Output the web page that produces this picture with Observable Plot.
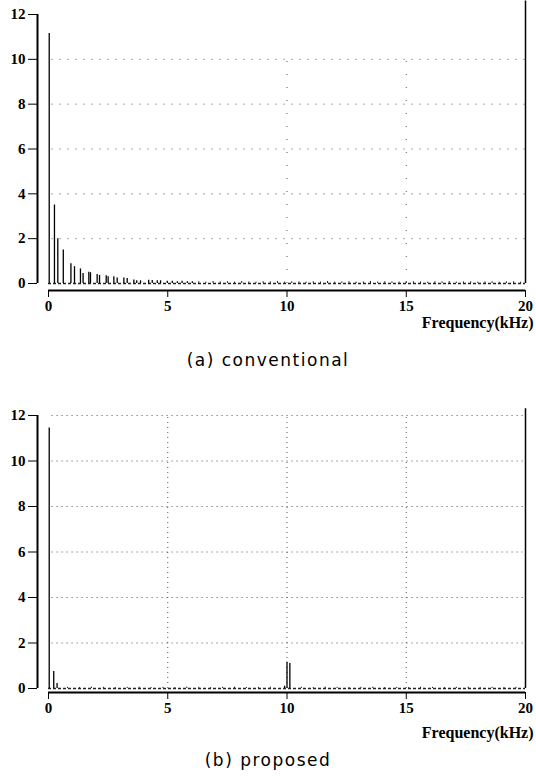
<!DOCTYPE html>
<html><head><meta charset="utf-8">
<script src="https://cdn.jsdelivr.net/npm/d3@7"></script>
<script src="https://cdn.jsdelivr.net/npm/@observablehq/plot@0.6"></script>
<style>
body{margin:0;background:#fff;}
#c{width:536px;}
svg{display:block}
.cap{width:536px;text-align:center;font-family:"DejaVu Sans",sans-serif;font-size:17px;letter-spacing:1.5px;color:#000;}
</style>
</head><body><div id="c"></div>
<script>
const xTicks = [0, 5, 10, 15, 20];
const yTicks = [0, 2, 4, 6, 8, 10, 12];
const xLabel = "Frequency(kHz)";
const captions = ["(a) conventional", "(b) proposed"];

// (a) conventional spectrum
const convFreq = [0.03, 0.25, 0.39, 0.62, 0.94, 1.09, 1.34, 1.45, 1.69, 1.76, 2.04, 2.14, 2.42, 2.5, 2.74, 2.88, 3.16, 3.3, 3.58, 3.7, 3.86, 4.2, 4.35, 4.56, 4.7, 4.98, 5.19, 5.4, 5.6, 5.82, 6.03];
const convAmp  = [11.15, 3.5, 2.0, 1.5, 0.88, 0.75, 0.65, 0.45, 0.5, 0.48, 0.4, 0.36, 0.35, 0.3, 0.3, 0.25, 0.25, 0.22, 0.16, 0.12, 0.12, 0.15, 0.13, 0.12, 0.12, 0.1, 0.1, 0.08, 0.1, 0.08, 0.08];
const convGrassFreq = [6.3, 6.6, 6.9, 7.2, 7.5, 7.8, 8.1, 8.4, 8.7, 9.0, 9.3, 9.6, 9.9, 10.2, 10.5, 10.8, 11.1, 11.4, 11.7, 12.0, 12.3, 12.6, 12.9, 13.2, 13.5, 13.8, 14.1, 14.4, 14.7, 15.0, 15.3, 15.6, 15.9, 16.2, 16.5, 16.8, 17.1, 17.4, 17.7, 18.0, 18.3, 18.6, 18.9, 19.2, 19.5, 19.8];
const convGrassAmp  = [0.08, 0.06, 0.09, 0.07, 0.08, 0.06, 0.09, 0.07, 0.06, 0.08, 0.07, 0.09, 0.06, 0.08, 0.07, 0.06, 0.08, 0.07, 0.09, 0.06, 0.07, 0.08, 0.06, 0.07, 0.09, 0.06, 0.08, 0.07, 0.06, 0.09, 0.08, 0.07, 0.06, 0.08, 0.07, 0.09, 0.06, 0.07, 0.08, 0.06, 0.07, 0.08, 0.06, 0.07, 0.08, 0.06];
const convGridY = [2, 4, 6, 8, 10];
const convGridX = [10, 15];

// (b) proposed spectrum
const propFreq = [0.03, 0.22, 0.36, 9.9, 10.0, 10.12];
const propAmp  = [11.45, 0.75, 0.22, 0.1, 1.15, 1.1];
const propGrassFreq = [0.8, 1.3, 1.8, 2.3, 2.8, 3.3, 3.8, 4.3, 4.8, 5.3, 5.8, 6.3, 6.8, 7.3, 7.8, 8.3, 8.8, 9.3, 10.6, 11.1, 11.6, 12.1, 12.6, 13.1, 13.6, 14.1, 14.6, 15.1, 15.6, 16.1, 16.6, 17.1, 17.6, 18.1, 18.6, 19.1, 19.6];
const propGrassAmp  = [0.05, 0.04, 0.06, 0.05, 0.04, 0.05, 0.06, 0.04, 0.05, 0.04, 0.06, 0.05, 0.04, 0.05, 0.06, 0.04, 0.05, 0.06, 0.05, 0.04, 0.06, 0.05, 0.04, 0.05, 0.06, 0.04, 0.05, 0.04, 0.06, 0.05, 0.04, 0.05, 0.06, 0.04, 0.05, 0.04, 0.05];
const propGridY = [2, 4, 6, 8, 10, 12];
const propGridX = [5, 10, 15];

const toRows = (f, a) => f.map((v, i) => ({f: v, a: a[i]}));

function chart(o) {
  const extra = [
    Plot.ruleY(o.gridY, {x1: 0.15, x2: 20, stroke: "#555", strokeDasharray: o.dash}),
    Plot.ruleX(o.gridX, {y1: 0, y2: o.gridXTop, stroke: "#555", strokeDasharray: o.dashX}),
    Plot.ruleY([0], {x1: 0, x2: 20, stroke: "#222", strokeDasharray: "3,2", strokeWidth: 1.5}),
    Plot.ruleX(toRows(o.gf, o.ga), {x: "f", y1: 0, y2: "a", stroke: "#222", strokeWidth: 1}),
    Plot.ruleX(toRows(o.freq, o.amp), {x: "f", y1: 0, y2: "a", stroke: "black", strokeWidth: 1.3}),
    Plot.text([xLabel], {frameAnchor: "bottom-right", dx: 8, dy: o.labelDy, textAnchor: "end",
      fontFamily: "Liberation Serif", fontSize: 16, fontWeight: "bold"})
  ];
  const base = [
    Plot.ruleX([20], {y1: 0, y2: o.rightTop, stroke: "black", strokeWidth: 1.5}),
    Plot.ruleX([0], {y1: 0, y2: 12, dx: -11, stroke: "black", strokeWidth: 2}),
    Plot.ruleY([0], {x1: 0, x2: 20, dy: o.axisDy, stroke: "black", strokeWidth: 2}),
    Plot.axisY({ticks: yTicks, tickSize: 9, dx: -11, label: null,
      fontFamily: "Liberation Serif", fontSize: 15, fontWeight: "bold"}),
    Plot.axisX({ticks: xTicks, tickSize: 7, dy: o.axisDy, label: null,
      fontFamily: "Liberation Serif", fontSize: 15, fontWeight: "bold"})
  ];
  return Plot.plot({
    width: 536, height: o.height,
    marginTop: o.marginTop, marginBottom: o.marginBottom,
    marginLeft: 48, marginRight: 11,
    x: {domain: [0, 20]},
    y: {domain: [0, 12]},
    style: {background: "white", color: "black"},
    marks: [...extra, ...base]
  });
}

function caption(text, h) {
  const d = document.createElement("div");
  d.className = "cap";
  d.style.height = h + "px";
  d.style.lineHeight = h + "px";
  d.textContent = text;
  return d;
}

const c = document.getElementById("c");
c.append(chart({
  height: 340, marginTop: 14, marginBottom: 57,
  freq: convFreq, amp: convAmp, gf: convGrassFreq, ga: convGrassAmp,
  gridY: convGridY, gridX: convGridX, gridXTop: 10, dash: "1,7", dashX: "1,12",
  rightTop: 12.6, axisDy: 7, labelDy: 44
}));
c.append(caption(captions[0], 40));
c.append(chart({
  height: 365, marginTop: 35, marginBottom: 57,
  freq: propFreq, amp: propAmp, gf: propGrassFreq, ga: propGrassAmp,
  gridY: propGridY, gridX: propGridX, gridXTop: 12, dash: "1,4", dashX: "1,4",
  rightTop: 12.3, axisDy: 4, labelDy: 49
}));
c.append(caption(captions[1], 31));
</script>
</body></html>
